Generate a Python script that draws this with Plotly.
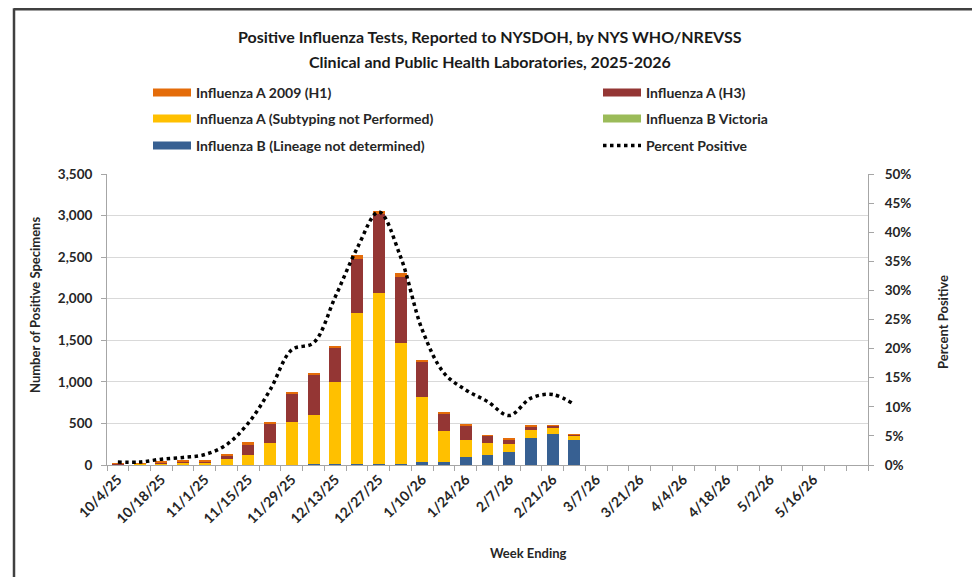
import plotly.graph_objects as go

weeks = ["10/4/25", "10/11/25", "10/18/25", "10/25/25", "11/1/25", "11/8/25", "11/15/25",
         "11/22/25", "11/29/25", "12/6/25", "12/13/25", "12/20/25", "12/27/25", "1/3/26",
         "1/10/26", "1/17/26", "1/24/26", "1/31/26", "2/7/26", "2/14/26", "2/21/26",
         "2/28/26", "3/7/26", "3/14/26", "3/21/26", "3/28/26", "4/4/26", "4/11/26",
         "4/18/26", "4/25/26", "5/2/26", "5/9/26", "5/16/26", "5/23/26", "5/30/26"]

b_lineage = [0, 0, 0, 0, 0, 2, 3, 3, 5, 8, 10, 15, 16, 12, 36, 36, 92, 124, 152, 324, 372, 296]
b_victoria = [0, 0, 0, 0, 0, 0, 0, 0, 0, 0, 0, 2, 2, 0, 0, 0, 0, 0, 0, 0, 0, 0]
a_subtyping = [10, 12, 20, 30, 32, 70, 113, 261, 507, 596, 986, 1815, 2046, 1460, 780, 368,
               204, 140, 100, 92, 72, 64]
a_h3 = [3, 5, 15, 15, 15, 45, 128, 237, 344, 480, 420, 640, 960, 784, 432, 212, 180, 86, 60,
        48, 26, 6]
a_h1 = [2, 3, 10, 5, 5, 7, 28, 15, 20, 12, 16, 56, 32, 48, 16, 20, 20, 6, 8, 12, 10, 2]
pct_positive = [0.5, 0.5, 1.0, 1.3, 1.8, 3.5, 7.2, 12.9, 19.8, 21.0, 28.9, 37.2, 43.5, 35.8,
                23.2, 15.8, 12.9, 10.9, 8.5, 11.5, 12.1, 10.4]

y_ticks = [0, 500, 1000, 1500, 2000, 2500, 3000, 3500]
pct_ticks = [0, 5, 10, 15, 20, 25, 30, 35, 40, 45, 50]
pct_labels = [f"{v}%" for v in pct_ticks]
tick_labels = [w if i % 2 == 0 and i <= 32 else "" for i, w in enumerate(weeks)]

C_H1 = "#E46C0A"
C_H3 = "#943634"
C_SUB = "#FFC000"
C_VIC = "#9BBB59"
C_BL = "#376092"

FONT = "Lato"
TXT = "#262626"

# page body has an 8px margin; target window coordinates are converted accordingly
OFF = 8
PLOT_L, PLOT_R, PLOT_T, PLOT_B = 107, 868, 174, 465   # plot area in window pixels
W, H = 980 - OFF, 577 - OFF
L, T = PLOT_L - OFF, PLOT_T - OFF
R, B = W - (PLOT_R - OFF), H - (PLOT_B - OFF)
pw, ph = PLOT_R - PLOT_L, PLOT_B - PLOT_T


def px(xp):
    return (xp - PLOT_L) / pw


def py(yp):
    return (PLOT_B - yp) / ph


n = len(b_lineage)
fig = go.Figure()
series = [
    ("Influenza B (Lineage not determined)", b_lineage, C_BL),
    ("Influenza B Victoria", b_victoria, C_VIC),
    ("Influenza A (Subtyping not Performed)", a_subtyping, C_SUB),
    ("Influenza A (H3)", a_h3, C_H3),
    ("Influenza A 2009 (H1)", a_h1, C_H1),
]
for name, vals, col in series:
    fig.add_trace(go.Bar(x=weeks[:n], y=vals, name=name, marker=dict(color=col, line=dict(width=0)),
                         showlegend=False))

fig.add_trace(go.Scatter(x=weeks[:n], y=pct_positive, yaxis="y2", mode="lines",
                         line=dict(color="black", width=3.5, dash="3.5px,3.5px", shape="spline",
                                   smoothing=1.0),
                         name="Percent Positive", legend="legend6"))

# legend entries (wide swatches), one legend per entry placed like the reference grid
legend_items = [
    ("legend", "Influenza A 2009 (H1)", C_H1),
    ("legend2", "Influenza A (H3)", C_H3),
    ("legend3", "Influenza A (Subtyping not Performed)", C_SUB),
    ("legend4", "Influenza B Victoria", C_VIC),
    ("legend5", "Influenza B (Lineage not determined)", C_BL),
]
for lg, name, col in legend_items:
    fig.add_trace(go.Scatter(x=[None], y=[None], mode="lines", name=name,
                             line=dict(color=col, width=8), legend=lg))

leg_font = dict(family=FONT, size=14, color=TXT, weight="bold")
col_x = [px(148), px(598)]
row_y = [py(93), py(119), py(146)]


def leg(c, r):
    return dict(orientation="v", xanchor="left", yanchor="middle", x=col_x[c], y=row_y[r],
                bgcolor="rgba(0,0,0,0)", font=leg_font, traceorder="normal", itemwidth=38)


fig.update_layout(
    width=W, height=H,
    margin=dict(l=L, r=R, t=T, b=B, autoexpand=False),
    paper_bgcolor="white", plot_bgcolor="white",
    barmode="stack", bargap=0.45,
    font=dict(family=FONT, color=TXT),
    legend=leg(0, 0), legend2=leg(1, 0),
    legend3=leg(0, 1), legend4=leg(1, 1),
    legend5=leg(0, 2), legend6=leg(1, 2),
    xaxis=dict(type="category", categoryorder="array", categoryarray=weeks,
               range=[-0.5, len(weeks) - 0.5], tickmode="array", tickvals=weeks,
               ticktext=tick_labels, tickson="boundaries", ticks="outside", ticklen=5,
               tickcolor="#A6A6A6", showline=True, linecolor="#A6A6A6", linewidth=1,
               showgrid=False, tickangle=-45, automargin=False,
               tickfont=dict(family=FONT, size=14, color=TXT, weight="bold")),
    yaxis=dict(range=[0, 3500], tickmode="array", tickvals=y_ticks, tickformat=",",
               showgrid=True, gridcolor="#D9D9D9", gridwidth=1, zeroline=False,
               showline=True, linecolor="#A6A6A6", ticks="outside", ticklen=5,
               tickcolor="#A6A6A6", ticklabelstandoff=6, automargin=False,
               tickfont=dict(family=FONT, size=13.5, color=TXT, weight="bold")),
    yaxis2=dict(range=[0, 50], overlaying="y", side="right", tickmode="array",
                tickvals=pct_ticks, ticktext=pct_labels, showgrid=False, zeroline=False,
                showline=True, linecolor="#A6A6A6", ticks="outside", ticklen=5,
                tickcolor="#A6A6A6", ticklabelstandoff=8, automargin=False,
                tickfont=dict(family=FONT, size=13.5, color=TXT, weight="bold")),
)

ann_font = dict(family=FONT, size=13, color=TXT, weight="bold")
title_font = dict(family=FONT, size=16, color="#1a1a1a", weight="bold")
fig.add_annotation(text="Positive Influenza Tests, Reported to NYSDOH, by NYS WHO/NREVSS",
                   x=px(490), y=py(37), xref="paper", yref="paper", showarrow=False,
                   xanchor="center", yanchor="middle", font=title_font)
fig.add_annotation(text="Clinical and Public Health Laboratories, 2025-2026",
                   x=px(490), y=py(61), xref="paper", yref="paper", showarrow=False,
                   xanchor="center", yanchor="middle", font=title_font)
fig.add_annotation(text="Number of Positive Specimens", textangle=-90, x=px(35), y=py(305),
                   xref="paper", yref="paper", showarrow=False, xanchor="center",
                   yanchor="middle", font=ann_font)
fig.add_annotation(text="Percent Positive", textangle=-90, x=px(943), y=py(322),
                   xref="paper", yref="paper", showarrow=False, xanchor="center",
                   yanchor="middle", font=ann_font)
fig.add_annotation(text="Week Ending", x=px(528), y=py(553), xref="paper", yref="paper",
                   showarrow=False, xanchor="center", yanchor="middle", font=ann_font)

# outer frame (left and top edges visible)
FRAME_TOP = 9.3
fig.add_shape(type="line", xref="paper", yref="paper", x0=px(14), x1=px(14), y0=py(FRAME_TOP - 1),
              y1=py(580), line=dict(color="#404040", width=2.5))
fig.add_shape(type="line", xref="paper", yref="paper", x0=px(14), x1=px(973), y0=py(FRAME_TOP),
              y1=py(FRAME_TOP), line=dict(color="#404040", width=2.5))

fig.write_html("out.html")
